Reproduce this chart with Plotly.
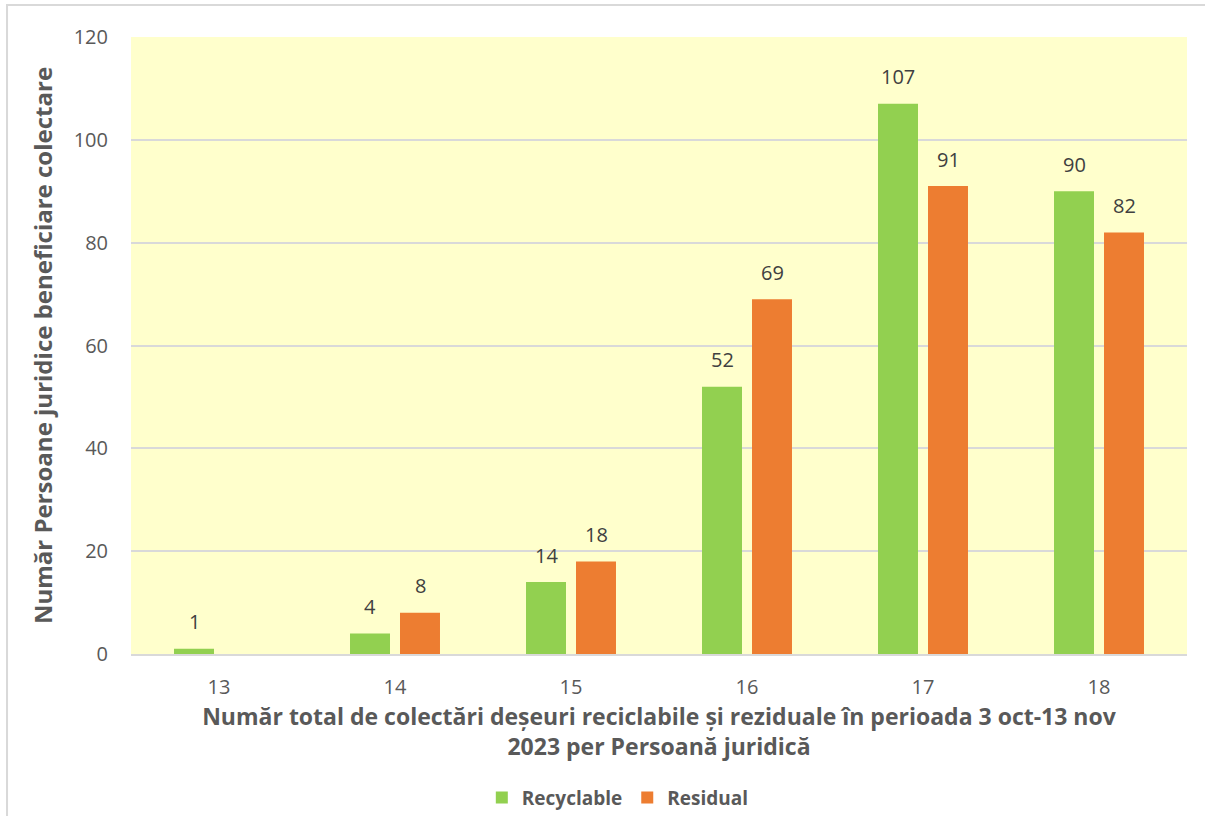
import plotly.graph_objects as go

categories = ["13", "14", "15", "16", "17", "18"]
recyclable = [1, 4, 14, 52, 107, 90]
residual = [None, 8, 18, 69, 91, 82]
y_ticks = [0, 20, 40, 60, 80, 100, 120]

FONT = "Open Sans"
fig = go.Figure()
fig.add_trace(go.Bar(x=categories, y=recyclable, name="Recyclable",
                     marker=dict(color="#92D050", line=dict(width=0))))
fig.add_trace(go.Bar(x=categories, y=residual, name="Residual",
                     marker=dict(color="#ED7D31", line=dict(width=0))))

# data labels placed above each bar (x given as category index)
for vals, dx in ((recyclable, -25), (residual, 25)):
    for i, v in enumerate(vals):
        if v is None:
            continue
        fig.add_annotation(x=i, y=v, text=str(v), showarrow=False, xshift=dx, yshift=27,
                           yanchor="middle", xanchor="center",
                           font=dict(family=FONT, size=20, color="#404040"))

fig.update_layout(
    width=1205, height=816,
    margin=dict(l=131, r=18, t=37, b=162, autoexpand=False),
    paper_bgcolor="white", plot_bgcolor="#FFFFCC",
    barmode="group", bargap=0.432, bargroupgap=0.2,
    font=dict(family=FONT, color="#595959"),
    showlegend=True,
    legend=dict(orientation="h", x=0.461, xanchor="center", y=-0.233, yanchor="middle",
                font=dict(family=FONT, size=19, color="#595959", weight="bold"),
                itemwidth=30, traceorder="normal"),
    xaxis=dict(type="category", showgrid=False, showline=True, linecolor="#D9D9D9", linewidth=1.5,
               automargin=False, range=[-0.5, len(categories) - 0.5],
               ticks="", tickfont=dict(family=FONT, size=20, color="#595959"),
               ticklabelstandoff=14,
               title=dict(text="Număr total de colectări deșeuri reciclabile și reziduale în perioada 3 oct-13 nov<br>2023 per Persoană juridică",
                          font=dict(family=FONT, size=23, color="#595959", weight="bold"), standoff=8)),
    yaxis=dict(range=[0, 120], tickvals=y_ticks, showgrid=True, gridcolor="#D9D9D9", gridwidth=1.5,
               automargin=False,
               zeroline=False, ticks="", tickfont=dict(family=FONT, size=20, color="#595959"),
               ticklabelstandoff=22,
               title=dict(text="Număr Persoane juridice beneficiare colectare",
                          font=dict(family=FONT, size=24, color="#595959", weight="bold"), standoff=14)),
)
fig.add_shape(type="rect", xref="paper", yref="paper", x0=-0.1174, x1=1.03, y0=-0.4, y1=1.052,
              line=dict(color="#D9D9D9", width=2), fillcolor="rgba(0,0,0,0)", layer="below")
fig.write_html("out.html", config={"displayModeBar": False},
               post_script="document.body.style.margin='0px';")
